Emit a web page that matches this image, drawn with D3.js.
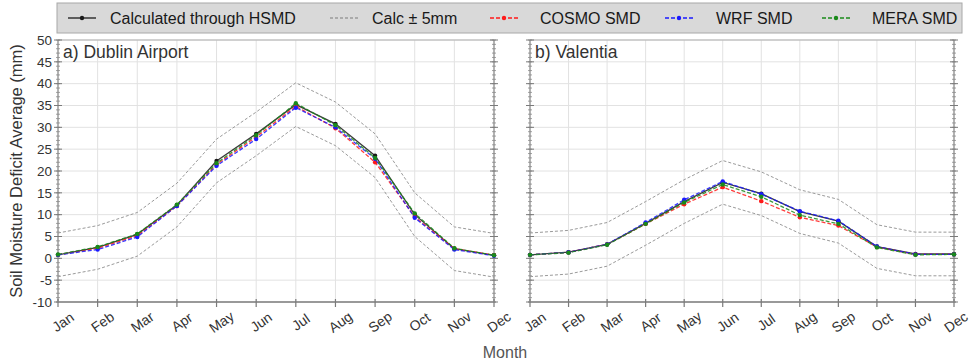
<!DOCTYPE html>
<html><head><meta charset="utf-8">
<script src="https://cdn.jsdelivr.net/npm/d3@7"></script>
<style>body{margin:0;background:#fff;}svg{display:block;font-family:"Liberation Sans",Arial,sans-serif;}</style>
</head><body><svg id="c" width="971" height="363"></svg>
<script>
const months = ["Jan","Feb","Mar","Apr","May","Jun","Jul","Aug","Sep","Oct","Nov","Dec"];
const yTicks = [-10,-5,0,5,10,15,20,25,30,35,40,45,50];

// a) Dublin Airport
const dubCalc  = [0.8,2.5,5.5,12.2,22.3,28.5,35.2,30.8,23.5,10.0,2.2,0.7];
const dubUpper = [5.8,7.5,10.5,17.2,27.3,33.5,40.2,35.8,28.5,15.0,7.2,5.7];
const dubLower = [-4.2,-2.5,0.5,7.2,17.3,23.5,30.2,25.8,18.5,5.0,-2.8,-4.3];
const dubCosmo = [0.8,2.3,5.2,12.0,21.5,27.8,34.8,29.8,22.0,9.5,2.2,0.7];
const dubWrf   = [0.8,2.0,4.9,12.0,21.2,27.3,34.5,30.0,22.8,9.3,2.0,0.6];
const dubMera  = [0.9,2.6,5.6,12.3,21.8,28.2,35.5,30.5,23.0,10.3,2.3,0.7];

// b) Valentia
const valCalc  = [0.8,1.4,3.2,8.0,13.0,17.4,14.8,10.7,8.5,2.7,1.0,1.0];
const valUpper = [5.8,6.4,8.2,13.0,18.0,22.4,19.8,15.7,13.5,7.7,6.0,6.0];
const valLower = [-4.2,-3.6,-1.8,3.0,8.0,12.4,9.8,5.7,3.5,-2.3,-4.0,-4.0];
const valCosmo = [0.8,1.4,3.2,7.9,12.4,16.3,13.1,9.4,7.5,2.6,0.9,0.9];
const valWrf   = [0.8,1.4,3.2,8.2,13.4,17.6,14.7,10.8,8.6,2.7,0.9,0.9];
const valMera  = [0.8,1.3,3.1,7.9,12.8,16.9,14.1,9.9,7.9,2.5,0.8,0.9];

const seriesNames = ["Calculated through HSMD","Calc \u00b1 5mm","COSMO SMD","WRF SMD","MERA SMD"];
const colors = {calc:"#1a1a1a", band:"#9a9a9a", cosmo:"#ff1a1a", wrf:"#1a1aff", mera:"#1a8a1a"};

const svg = d3.select("#c");
const plotTop = 40, plotBottom = 302;
const y = d3.scaleLinear().domain([-10,50]).range([plotBottom, plotTop]);

function panel(x0, x1, title, calc, up, lo, cosmo, wrf, mera, showYLabels){
  const x = d3.scalePoint().domain(months).range([x0, x1]);
  const g = svg.append("g");
  g.selectAll(null).data(yTicks).enter().append("line")
    .attr("x1",x0).attr("x2",x1).attr("y1",d=>y(d)).attr("y2",d=>y(d))
    .attr("stroke","#e2e2e2").attr("stroke-width",1);
  g.selectAll(null).data(months).enter().append("line")
    .attr("x1",d=>x(d)).attr("x2",d=>x(d)).attr("y1",plotTop).attr("y2",plotBottom)
    .attr("stroke","#e2e2e2").attr("stroke-width",1);
  g.append("line").attr("x1",x0).attr("x2",x1).attr("y1",plotTop).attr("y2",plotTop).attr("stroke","#b0b0b0");
  [x0,x1].forEach(ax=>{
    g.append("line").attr("x1",ax).attr("x2",ax).attr("y1",plotTop).attr("y2",plotBottom).attr("stroke","#8a8a8a").attr("stroke-width",1.2);
    const minor = d3.range(-10,50.01,1);
    g.selectAll(null).data(minor).enter().append("line")
      .attr("x1",ax-2).attr("x2",ax+2).attr("y1",d=>y(d)).attr("y2",d=>y(d))
      .attr("stroke","#8a8a8a").attr("stroke-width",0.8);
    g.selectAll(null).data(yTicks).enter().append("line")
      .attr("x1",ax-4).attr("x2",ax+4).attr("y1",d=>y(d)).attr("y2",d=>y(d))
      .attr("stroke","#7a7a7a").attr("stroke-width",1);
  });
  if(showYLabels){
    g.selectAll(null).data(yTicks).enter().append("text")
      .attr("x",x0-6).attr("y",d=>y(d)).attr("dy","0.35em")
      .attr("text-anchor","end").attr("font-size",13.5).attr("fill","#333").text(d=>d);
  }
  g.append("line").attr("x1",x0-2).attr("x2",x1+2).attr("y1",plotBottom).attr("y2",plotBottom).attr("stroke","#999").attr("stroke-width",2);
  g.selectAll(null).data(months).enter().append("line")
    .attr("x1",d=>x(d)).attr("x2",d=>x(d)).attr("y1",plotBottom-3).attr("y2",plotBottom+5)
    .attr("stroke","#7a7a7a").attr("stroke-width",1.2);
  g.selectAll(null).data(months).enter().append("text")
    .attr("transform",(d,i)=>`translate(${x(d)+(i===11 && !showYLabels ? 2 : 5)},${plotBottom+20}) rotate(-35)`)
    .attr("text-anchor","middle").attr("dy","0.35em").attr("font-size",14).attr("fill","#333").text(d=>d);
  g.append("text").attr("x",x0+5).attr("y",plotTop+18).attr("font-size",17.5).attr("fill","#333").text(title);

  const line = d3.line().x((d,i)=>x(months[i])).y(d=>y(d));
  [up,lo].forEach(arr=>{
    g.append("path").attr("d",line(arr)).attr("fill","none").attr("stroke",colors.band)
      .attr("stroke-width",1).attr("stroke-dasharray","3,2");
  });
  const series = [
    {d:calc, c:colors.calc, dash:null},
    {d:cosmo, c:colors.cosmo, dash:"4,2"},
    {d:wrf, c:colors.wrf, dash:"4,2"},
    {d:mera, c:colors.mera, dash:"4,2"}
  ];
  series.forEach(s=>{
    g.append("path").attr("d",line(s.d)).attr("fill","none").attr("stroke",s.c)
      .attr("stroke-width",1.3).attr("stroke-dasharray",s.dash).attr("opacity",0.85);
    g.selectAll(null).data(s.d).enter().append("circle")
      .attr("cx",(d,i)=>x(months[i])).attr("cy",d=>y(d)).attr("r",2.2).attr("fill",s.c);
  });
}

panel(58, 494, "a) Dublin Airport", dubCalc, dubUpper, dubLower, dubCosmo, dubWrf, dubMera, true);
panel(530, 954, "b) Valentia", valCalc, valUpper, valLower, valCosmo, valWrf, valMera, false);

svg.append("text").attr("transform",`translate(22,${(plotTop+plotBottom)/2}) rotate(-90)`)
  .attr("text-anchor","middle").attr("font-size",16.5).attr("fill","#333").text("Soil Moisture Deficit Average (mm)");
svg.append("text").attr("x",505).attr("y",358).attr("text-anchor","middle").attr("font-size",16).attr("fill","#555").text("Month");

const lg = svg.append("g");
lg.append("rect").attr("x",57).attr("y",3).attr("width",905).attr("height",30)
  .attr("fill","#d9d9d9").attr("stroke","#a8a8a8");
const legItems = [
  {n:seriesNames[0], c:colors.calc, dash:null, dot:true, lx:68, tx:110},
  {n:seriesNames[1], c:colors.band, dash:"3,2", dot:false, lx:330, tx:372},
  {n:seriesNames[2], c:colors.cosmo, dash:"4,2", dot:true, lx:490, tx:540},
  {n:seriesNames[3], c:colors.wrf, dash:"4,2", dot:true, lx:665, tx:716},
  {n:seriesNames[4], c:colors.mera, dash:"4,2", dot:true, lx:822, tx:872}
];
legItems.forEach(it=>{
  lg.append("line").attr("x1",it.lx).attr("x2",it.lx+28).attr("y1",18).attr("y2",18)
    .attr("stroke",it.c).attr("stroke-width",1.3).attr("stroke-dasharray",it.dash);
  if(it.dot) lg.append("circle").attr("cx",it.lx+14).attr("cy",18).attr("r",2.2).attr("fill",it.c);
  lg.append("text").attr("x",it.tx).attr("y",18).attr("dy","0.35em").attr("font-size",16)
    .attr("fill","#1a1a1a").text(it.n);
});
</script></body></html>
